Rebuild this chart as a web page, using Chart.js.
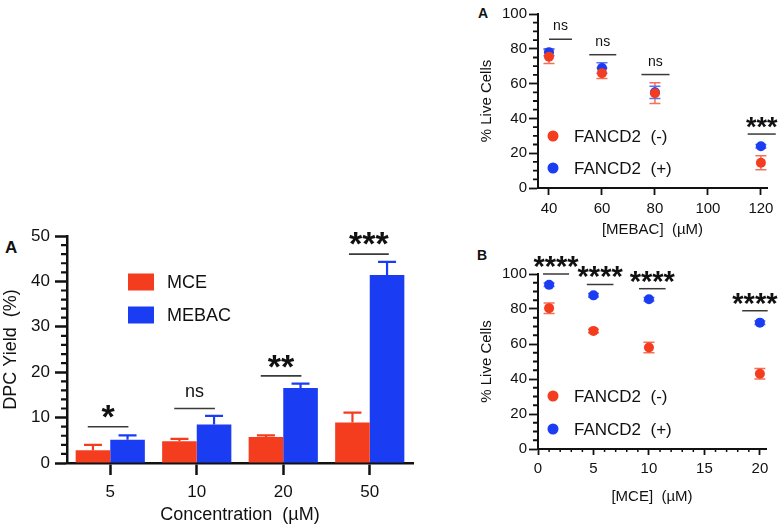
<!DOCTYPE html>
<html>
<head>
<meta charset="utf-8">
<script src="https://cdn.jsdelivr.net/npm/chart.js@4.4.1/dist/chart.umd.min.js"></script>
<style>
  body { margin: 0; width: 784px; height: 530px; background: #fff; position: relative; overflow: hidden;
         font-family: 'Liberation Sans', Arial, sans-serif; color: #111; }
  canvas { position: absolute; }
  .letter { position: absolute; font-weight: bold; line-height: 1; }
</style>
</head>
<body>
<div class="letter" style="left:5px;top:239px;font-size:17px;">A</div>
<div class="letter" style="left:478px;top:6px;font-size:14px;">A</div>
<div class="letter" style="left:477px;top:248px;font-size:14px;">B</div>
<canvas id="chartDpc" width="440" height="320" style="left:0;top:210px;"></canvas>
<canvas id="chartMebac" width="314" height="250" style="left:470px;top:0;"></canvas>
<canvas id="chartMce" width="314" height="280" style="left:470px;top:250px;"></canvas>
<script>
// Données
const concLabels = ['5', '10', '20', '50'];
const mceYield   = [2.8, 4.8, 5.7, 8.9];
const mceErr     = [1.2, 0.5, 0.4, 2.2];
const mebacYield = [5.1, 8.5, 16.5, 41.4];
const mebacErr   = [1.0, 1.9, 1.0, 2.9];
// [x1, x2, ligne, texte, label] (x en index de catégorie)
const dpcSig = [
    [-0.26, 0.21, 8.0, 11.3, '*'],
    [0.74, 1.21, 12.0, 15.7, 'ns'],
    [1.74, 2.21, 19.2, 22.3, '**'],
    [2.76, 3.22, 46.0, 49.5, '***']
];

const mebacDose  = [40, 60, 80, 120];
const mebacNeg   = [75.5, 66.0, 54.5, 14.5];
const mebacNegE  = [4.0, 3.0, 6.0, 4.0];
const mebacPos   = [78.0, 69.0, 55.0, 24.0];
const mebacPosE  = [2.0, 3.0, 3.5, 1.0];
const mebacTicks = [40, 60, 80, 100, 120];
const mebacSig = [
    [40, 48.7, 85.5, 93.0, 'ns'],
    [55.2, 65.4, 76.6, 84.0, 'ns'],
    [74.9, 85.5, 65.2, 72.4, 'ns'],
    [115, 125.6, 31.0, 37.6, '***']
];

const mceDose  = [1, 5, 10, 20];
const mceNeg   = [80.5, 67.5, 58.0, 43.0];
const mceNegE  = [3.0, 1.0, 3.0, 3.0];
const mcePos   = [93.8, 87.8, 85.6, 72.2];
const mcePosE  = [1.0, 1.0, 1.0, 1.0];
const mceTicks = [0, 5, 10, 15, 20];
const mceSig = [
    [0.45, 2.8, 100.0, 107.0, '****'],
    [4.4, 6.8, 94.0, 101.0, '****'],
    [9.1, 11.5, 91.6, 98.5, '****'],
    [18.4, 20.7, 79.0, 86.0, '****']
];

const RED  = '#f43c1f';
const BLUE = '#1a3cf2';
const INK  = '#111';
const FONT = "'Liberation Sans', Arial, sans-serif";

Chart.defaults.font.family = FONT;
Chart.defaults.color = INK;

// Plugin : barres d'erreur, graduations mineures, significativité, légende
const extrasPlugin = {
    id: 'extras',
    beforeDatasetsDraw(chart, args, o) {
        const { ctx } = chart;
        const y = chart.scales.y;
        (o.errors || []).forEach((errs, i) => {
            const meta = chart.getDatasetMeta(i);
            const ds   = chart.data.datasets[i];
            ctx.save();
            ctx.strokeStyle = o.errColors[i];
            ctx.lineWidth   = o.errWidth;
            ctx.beginPath();
            meta.data.forEach((el, j) => {
                const raw = ds.data[j];
                const v   = typeof raw === 'object' ? raw.y : raw;
                const top = y.getPixelForValue(v + errs[j]);
                const bot = y.getPixelForValue(o.upperOnly ? v : v - errs[j]);
                const cw  = o.capWidth / 2;
                ctx.moveTo(el.x, bot); ctx.lineTo(el.x, top);
                ctx.moveTo(el.x - cw, top); ctx.lineTo(el.x + cw, top);
                if (!o.upperOnly) { ctx.moveTo(el.x - cw, bot); ctx.lineTo(el.x + cw, bot); }
            });
            ctx.stroke();
            ctx.restore();
        });
    },
    afterDraw(chart, args, o) {
        const { ctx } = chart;
        // graduations mineures
        (o.minor || []).forEach(m => {
            const s = chart.scales[m.axis];
            ctx.save();
            ctx.strokeStyle = INK;
            ctx.lineWidth   = m.width;
            ctx.beginPath();
            for (let k = Math.ceil(s.min / m.step); k * m.step <= s.max + 1e-9; k++) {
                const v = k * m.step;
                if (Math.abs(v / m.major - Math.round(v / m.major)) < 1e-6) continue;
                const p = s.getPixelForValue(v);
                if (m.axis === 'y') { ctx.moveTo(s.right - m.len, p); ctx.lineTo(s.right, p); }
                else { ctx.moveTo(p, s.top); ctx.lineTo(p, s.top + m.len); }
            }
            ctx.stroke();
            ctx.restore();
        });
        // lignes + étoiles
        const sx = chart.scales.x, sy = chart.scales.y;
        (o.sig || []).forEach(([x1, x2, ly, ty, label]) => {
            const p1 = sx.getPixelForValue(x1), p2 = sx.getPixelForValue(x2);
            const py = sy.getPixelForValue(ly);
            ctx.save();
            ctx.strokeStyle = '#3a3a3a';
            ctx.lineWidth = o.sigLine;
            ctx.beginPath();
            ctx.moveTo(p1, py); ctx.lineTo(p2, py);
            ctx.stroke();
            const star = label.indexOf('*') >= 0;
            ctx.font = star ? 'bold ' + o.starSize + 'px ' + FONT : o.nsSize + 'px ' + FONT;
            ctx.fillStyle = INK;
            ctx.textAlign = 'center';
            ctx.textBaseline = 'alphabetic';
            const m = ctx.measureText(label);
            const off = (m.actualBoundingBoxAscent - m.actualBoundingBoxDescent) / 2;
            ctx.fillText(label, (p1 + p2) / 2, sy.getPixelForValue(ty) + off);
            ctx.restore();
        });
        // légende
        const lg = o.legend;
        if (lg) {
            chart.data.datasets.forEach((ds, i) => {
                const cy = lg.y[i];
                ctx.save();
                ctx.fillStyle = lg.colors[i];
                if (lg.kind === 'box') {
                    ctx.fillRect(lg.x, cy - lg.h / 2, lg.w, lg.h);
                } else {
                    ctx.beginPath();
                    ctx.arc(lg.x, cy, lg.r, 0, Math.PI * 2);
                    ctx.fill();
                }
                ctx.fillStyle = INK;
                ctx.font = lg.size + 'px ' + FONT;
                ctx.textBaseline = 'middle';
                ctx.fillText(ds.label, lg.textX, cy + 1);
                ctx.restore();
            });
        }
    }
};

function axisGrid(len, width) {
    return { display: true, drawOnChartArea: false, drawTicks: true, offset: false,
             tickLength: len, tickWidth: width, tickColor: INK };
}

// Graphe gauche : barres DPC
new Chart(document.getElementById('chartDpc'), {
    type: 'bar',
    data: {
        labels: concLabels,
        datasets: [
            { label: 'MCE',   data: mceYield,   backgroundColor: RED },
            { label: 'MEBAC', data: mebacYield, backgroundColor: BLUE }
        ]
    },
    options: {
        responsive: false,
        animation: false,
        categoryPercentage: 0.8,
        barPercentage: 1.0,
        layout: { padding: { top: 26, right: 27, left: 0, bottom: 0 } },
        plugins: {
            legend: { display: false },
            tooltip: { enabled: false },
            extras: {
                errors: [mceErr, mebacErr], errColors: [RED, BLUE], errWidth: 2.2,
                upperOnly: true, capWidth: 18,
                minor: [{ axis: 'y', step: 2, major: 10, len: 6, width: 2.2 }],
                sig: dpcSig, sigLine: 1.6, starSize: 34, nsSize: 18,
                legend: { kind: 'box', x: 128, y: [72, 105], w: 26, h: 17, colors: [RED, BLUE], textX: 167, size: 18 }
            }
        },
        scales: {
            x: {
                grid: axisGrid(12, 2.5),
                border: { color: INK, width: 2.5 },
                ticks: { font: { size: 17 }, color: INK, padding: 7, maxRotation: 0 },
                title: { display: true, text: 'Concentration  (µM)', font: { size: 18 }, color: INK, padding: { top: 0, bottom: 4 } },
                afterFit(s) { s.height = 67; }
            },
            y: {
                min: 0, max: 50,
                grid: axisGrid(12, 2.5),
                border: { color: INK, width: 2.5 },
                ticks: { stepSize: 10, font: { size: 17 }, color: INK, padding: 5 },
                title: { display: true, text: 'DPC Yield  (%)', font: { size: 18 }, color: INK, padding: { top: 0, bottom: 0 } },
                afterFit(s) { s.width = 67; }
            }
        }
    },
    plugins: [extrasPlugin]
});

// Graphes droite : viabilité
function makeViability(canvasId, doses, neg, negE, pos, posE, xOpts, sig, minor, legendY, top, xHeight, xTitlePad) {
    return new Chart(document.getElementById(canvasId), {
        type: 'scatter',
        data: {
            datasets: [
                { label: 'FANCD2  (-)', data: doses.map((d, i) => ({ x: d, y: neg[i] })), backgroundColor: RED, borderWidth: 0, pointRadius: 5 },
                { label: 'FANCD2  (+)', data: doses.map((d, i) => ({ x: d, y: pos[i] })), backgroundColor: BLUE, borderWidth: 0, pointRadius: 5 }
            ]
        },
        options: {
            responsive: false,
            animation: false,
            layout: { padding: { top: top, right: xOpts.right, left: 0, bottom: 0 } },
            plugins: {
                legend: { display: false },
                tooltip: { enabled: false },
                extras: {
                    errors: [negE, posE], errColors: ['#f5705a', '#5a74f0'], errWidth: 1.5,
                    upperOnly: false, capWidth: 11,
                    minor: minor,
                    sig: sig, sigLine: 1.5, starSize: xOpts.starSize, nsSize: 14,
                    legend: { kind: 'dot', x: 83, y: legendY, r: 5.5, colors: [RED, BLUE], textX: 104, size: 17 }
                }
            },
            scales: {
                x: {
                    type: 'linear', min: xOpts.min, max: xOpts.max,
                    grid: axisGrid(xOpts.tickLen, 1.8),
                    border: { color: INK, width: 2 },
                    ticks: { font: { size: 15 }, color: INK, padding: 5, maxRotation: 0 },
                    afterBuildTicks(s) { s.ticks = xOpts.ticks.map(v => ({ value: v })); },
                    title: { display: true, text: xOpts.title, font: { size: 15 }, color: INK, padding: { top: 0, bottom: xTitlePad } },
                    afterFit(s) { s.height = xHeight; }
                },
                y: {
                    min: 0, max: 100,
                    grid: axisGrid(9, 1.8),
                    border: { color: INK, width: 2 },
                    ticks: { stepSize: 20, font: { size: 15 }, color: INK, padding: 2 },
                    title: { display: true, text: '% Live Cells', font: { size: 15 }, color: INK, padding: { top: 8, bottom: 0 } },
                    afterFit(s) { s.width = 68; }
                }
            }
        },
        plugins: [extrasPlugin]
    });
}

makeViability('chartMebac', mebacDose, mebacNeg, mebacNegE, mebacPos, mebacPosE,
    { min: 35.85, max: 122.3, ticks: mebacTicks, title: '[MEBAC]  (µM)', right: 17, tickLen: 7, starSize: 27 },
    mebacSig,
    [{ axis: 'y', step: 5, major: 20, len: 5, width: 1.8 }],
    [136, 168], 14, 62, 11);

makeViability('chartMce', mceDose, mceNeg, mceNegE, mcePos, mcePosE,
    { min: 0, max: 20.55, ticks: mceTicks, title: '[MCE]  (µM)', right: 18, tickLen: 6, starSize: 29 },
    mceSig,
    [{ axis: 'y', step: 5, major: 20, len: 5, width: 1.8 }, { axis: 'x', step: 1, major: 5, len: 3, width: 1.5 }],
    [146, 179], 24, 81, 24);
</script>
</body>
</html>
